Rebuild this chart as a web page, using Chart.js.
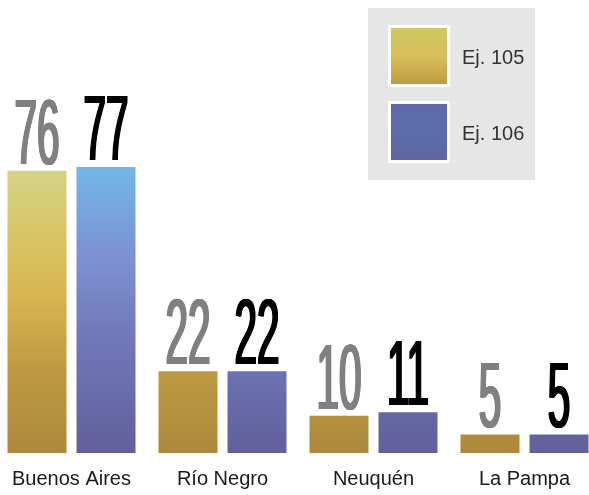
<!DOCTYPE html>
<html>
<head>
<meta charset="utf-8">
<script src="https://cdn.jsdelivr.net/npm/chart.js@4.4.1/dist/chart.umd.min.js"></script>
<style>
  html, body { margin: 0; padding: 0; background: #fff; overflow: hidden; }
  #wrap { position: absolute; left: -4px; top: 0; width: 604px; height: 495px; }
</style>
</head>
<body>
<div id="wrap"><canvas id="chartCanvas"></canvas></div>
<script>
const provincias = ['Buenos Aires', 'Río Negro', 'Neuquén', 'La Pampa'];
const seriesNames = ['Ej. 105', 'Ej. 106'];
const ej105 = [76, 22, 10, 5];
const ej106 = [77, 22, 11, 5];

// colores de texto de las etiquetas de valor
const valueColors = ['#808080', '#000000'];

function goldFill(ctx, y0, y1) {
  const g = ctx.createLinearGradient(0, y0, 0, y1);
  g.addColorStop(0, '#d6d386');
  g.addColorStop(0.25, '#d8c462');
  g.addColorStop(0.45, '#d7b450');
  g.addColorStop(0.7, '#bf9a42');
  g.addColorStop(1, '#ad883c');
  return g;
}
function blueFill(ctx, y0, y1) {
  const g = ctx.createLinearGradient(0, y0, 0, y1);
  g.addColorStop(0, '#72b6e8');
  g.addColorStop(0.3, '#7d92d2');
  g.addColorStop(0.6, '#7078b8');
  g.addColorStop(1, '#625f9c');
  return g;
}

const valueLabels = {
  id: 'valueLabels',
  afterDatasetsDraw(chart) {
    const ctx = chart.ctx;
    chart.data.datasets.forEach((ds, i) => {
      const meta = chart.getDatasetMeta(i);
      meta.data.forEach((bar, j) => {
        const txt = String(ds.data[j]);
        ctx.save();
        ctx.font = '92px "Liberation Sans", Arial, sans-serif';
        ctx.fillStyle = valueColors[i];
        ctx.textAlign = 'center';
        ctx.textBaseline = 'alphabetic';
        // narrow the glyphs, then thicken the vertical stems a little
        for (let k = -1; k <= 1; k += 0.5) {
          ctx.save();
          ctx.translate(bar.x + k, bar.y - 7);
          ctx.scale(0.44, 1);
          ctx.fillText(txt, 0, 0);
          ctx.restore();
        }
        ctx.restore();
      });
    });
  }
};

const boxLegend = {
  id: 'boxLegend',
  afterDraw(chart) {
    const ctx = chart.ctx;
    const ox = 4; // wrapper offset
    ctx.save();
    ctx.fillStyle = '#e6e6e6';
    ctx.fillRect(368 + ox, 8, 167, 172);
    const rows = [25, 101];
    seriesNames.forEach((name, i) => {
      const y = rows[i];
      ctx.fillStyle = '#ffffff';
      ctx.fillRect(388 + ox, y, 62, 62);
      const g = ctx.createLinearGradient(0, y, 0, y + 62);
      if (i === 0) {
        g.addColorStop(0, '#cfc861');
        g.addColorStop(0.5, '#d8bf58');
        g.addColorStop(1, '#b99a40');
      } else {
        g.addColorStop(0, '#6068a8');
        g.addColorStop(0.5, '#5a6eaa');
        g.addColorStop(1, '#6264a0');
      }
      ctx.fillStyle = g;
      ctx.fillRect(391 + ox, y + 3, 56, 56);
      ctx.fillStyle = '#333333';
      ctx.font = '20px "Liberation Sans", Arial, sans-serif';
      ctx.textAlign = 'left';
      ctx.textBaseline = 'middle';
      ctx.fillText(name, 462 + ox, y + 33);
    });
    ctx.restore();
  }
};

const ctx = document.getElementById('chartCanvas').getContext('2d');

new Chart(ctx, {
  type: 'bar',
  data: {
    labels: provincias,
    datasets: [{
      label: seriesNames[0],
      data: ej105,
      backgroundColor: (c) => {
        const a = c.chart.chartArea;
        if (!a) return '#c19a40';
        return goldFill(c.chart.ctx, 170, a.bottom);
      },
      borderWidth: 0
    }, {
      label: seriesNames[1],
      data: ej106,
      backgroundColor: (c) => {
        const a = c.chart.chartArea;
        if (!a) return '#6b72b4';
        return blueFill(c.chart.ctx, 170, a.bottom);
      },
      borderWidth: 0
    }]
  },
  options: {
    responsive: true,
    maintainAspectRatio: false,
    animation: false,
    layout: { padding: 0 },
    categoryPercentage: 0.914,
    barPercentage: 0.855,
    scales: {
      x: {
        grid: { display: false, drawTicks: false },
        border: { display: false },
        ticks: {
          color: '#1a1a1a',
          padding: 14,
          font: { size: 20, family: '"Liberation Sans", Arial, sans-serif' }
        },
        afterFit: (scale) => { scale.height = 42; }
      },
      y: {
        display: false,
        min: 0,
        max: 122
      }
    },
    plugins: {
      legend: { display: false },
      tooltip: { enabled: false }
    }
  },
  plugins: [valueLabels, boxLegend]
});
</script>
</body>
</html>
